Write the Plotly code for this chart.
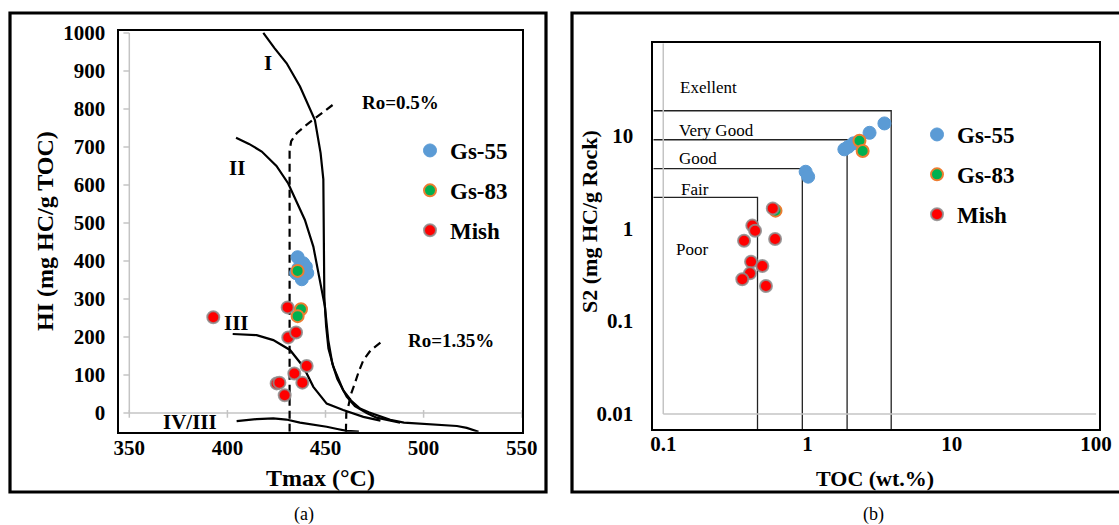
import plotly.graph_objects as go

# ---------------- data: panel (a) HI vs Tmax ----------------
gs55_tmax = [435.8, 440.0, 440.7, 437.9, 435.0, 438.7, 436.2]
gs55_hi = [410, 385, 368, 352, 368, 394, 381]
gs83_tmax = [435.8, 437.5, 435.8]
gs83_hi = [374, 273, 255]
mish_tmax = [392.8, 430.7, 431.0, 435.0, 440.4, 434.1, 438.2, 425.1, 426.5, 429.2]
mish_hi = [252, 278, 199, 212, 124, 104, 80, 78, 80, 47]

# kerogen type boundary curves
type1_t = [418.3, 424, 430.2, 437, 444.6, 447.5, 448.9, 449.1, 449.4, 450.3, 451.5, 454, 459,
           463, 467.6, 472, 477.8, 483, 490, 500, 510, 517, 522, 528]
type1_hi = [1000, 960, 920, 859, 771, 684, 615, 450, 306, 230, 170, 122, 60,
            33, 12, 2, -8, -18, -25, -28, -31, -34, -39, -49]
type2_t = [404.4, 411, 417.5, 425, 431, 435, 439.5, 443.8, 447.2, 449.7, 451.4, 453.5, 456,
           460.8, 465, 471, 476, 483, 488]
type2_hi = [724, 708, 688, 650, 604, 560, 508, 438, 350, 280, 192, 130, 90,
            43, 18, 0, -12, -20, -25]
type3_t = [402.7, 414.9, 423.4, 431.9, 438.7, 443.8, 450.6, 459, 469.3, 478]
type3_hi = [208, 205, 192, 166, 122, 69, 25, 8, -10, -20]
type4_t = [404.7, 415, 423.4, 430, 437, 445, 450.6, 456, 460.8, 467]
type4_hi = [-21, -16, -14, -17, -25, -31, -36, -42, -47, -49]

# vitrinite reflectance iso-lines
ro05_t = [431.7, 431.7, 432.5, 435.3, 440, 444.6, 450, 454.8]
ro05_hi = [-49, 690, 715, 736, 757, 775, 795, 815]
ro135_t = [460.4, 460.6, 461.6, 463, 465, 467, 469.3, 473, 478.6]
ro135_hi = [-49, 0, 17, 50, 79, 110, 139, 165, 188]

tmax_ticks = [350, 400, 450, 500, 550]
hi_ticks = [0, 100, 200, 300, 400, 500, 600, 700, 800, 900, 1000]

# ---------------- data: panel (b) S2 vs TOC ----------------
gs55_toc = [3.41, 2.69, 2.08, 1.92, 1.80, 0.97, 1.01]
gs55_s2 = [13.5, 10.7, 8.24, 7.57, 7.1, 4.07, 3.6]
gs83_toc = [2.29, 2.41, 0.60]
gs83_s2 = [8.79, 6.81, 1.55]
mish_toc = [0.574, 0.414, 0.433, 0.363, 0.596, 0.406, 0.486, 0.399, 0.353, 0.515]
mish_s2 = [1.64, 1.07, 0.94, 0.735, 0.767, 0.436, 0.392, 0.327, 0.282, 0.239]

# source-rock potential class limits
toc_limits = [0.45, 0.92, 1.88, 3.8]
s2_limits = [2.15, 4.4, 9.0, 18.5]

toc_ticks = [0.1, 1, 10, 100]
toc_ticktext = ["0.1", "1", "10", "100"]
s2_ticks = [0.01, 0.1, 1, 10]
s2_ticktext = ["0.01", "0.1", "1", "10"]

# ---------------- styling ----------------
W, H = 1119, 525
SERIF = "Liberation Serif, Times New Roman, serif"
BLUE = "#5B9BD5"
GREEN = "#00B050"
ORANGE = "#ED7D31"
RED = "#FF0000"
HALO = "rgba(140,140,140,0.85)"
GREY = "#C4C4C4"

XA_RANGE = [344.9, 550]
YA_RANGE = [-49, 1005]
XB_RANGE = [-1.069, 2.02]
YB_RANGE = [-2.163, 1.994]


def px(x):
    return x / W


def py(y):
    return 1 - y / H


fig = go.Figure()

# ---- panel (a): curves ----
for tx, hy in [(type1_t, type1_hi), (type2_t, type2_hi), (type3_t, type3_hi), (type4_t, type4_hi)]:
    fig.add_trace(go.Scatter(x=tx, y=hy, mode="lines", line=dict(color="black", width=2.2),
                             showlegend=False, hoverinfo="skip", xaxis="x", yaxis="y"))
for tx, hy in [(ro05_t, ro05_hi), (ro135_t, ro135_hi)]:
    fig.add_trace(go.Scatter(x=tx, y=hy, mode="lines",
                             line=dict(color="black", width=2.2, dash="8px,5px"),
                             showlegend=False, hoverinfo="skip", xaxis="x", yaxis="y"))

# ---- panel (b): class boundaries and axis lines ----
toc_min = 10 ** XB_RANGE[0]
s2_min = 10 ** YB_RANGE[0]
for tl, sl in zip(toc_limits, s2_limits):
    fig.add_trace(go.Scatter(x=[toc_min, tl, tl], y=[sl, sl, s2_min], mode="lines",
                             line=dict(color="#222222", width=1.3),
                             showlegend=False, hoverinfo="skip", xaxis="x2", yaxis="y2"))
fig.add_trace(go.Scatter(x=[toc_ticks[0], toc_ticks[0]], y=[s2_ticks[0], 10 ** YB_RANGE[1]],
                         mode="lines", line=dict(color=GREY, width=1.5),
                         showlegend=False, hoverinfo="skip", xaxis="x2", yaxis="y2"))
fig.add_trace(go.Scatter(x=[toc_ticks[0], toc_ticks[-1]], y=[s2_ticks[0], s2_ticks[0]],
                         mode="lines", line=dict(color=GREY, width=1.5),
                         showlegend=False, hoverinfo="skip", xaxis="x2", yaxis="y2"))

# ---- sample points ----
series = [
    ("Gs-55", gs55_tmax, gs55_hi, gs55_toc, gs55_s2, dict(color=BLUE, size=13, line=dict(color=BLUE, width=1))),
    ("Gs-83", gs83_tmax, gs83_hi, gs83_toc, gs83_s2, dict(color=GREEN, size=12, line=dict(color=ORANGE, width=2))),
    ("Mish", mish_tmax, mish_hi, mish_toc, mish_s2, dict(color=RED, size=12, line=dict(color=HALO, width=2))),
]
for name, tx, hy, toc, s2, mk in series:
    fig.add_trace(go.Scatter(x=tx, y=hy, mode="markers", name=name, marker=mk,
                             legend="legend", legendgroup=name + "a", xaxis="x", yaxis="y"))
    fig.add_trace(go.Scatter(x=toc, y=s2, mode="markers", name=name, marker=mk,
                             legend="legend2", legendgroup=name + "b", xaxis="x2", yaxis="y2"))

tick_font = dict(family=SERIF, size=21, color="black", weight="bold")
axis_common = dict(showline=True, mirror=True, linecolor="black", linewidth=1.6,
                   showgrid=False, zeroline=False, ticks="", tickfont=tick_font,
                   automargin=False)

legend_font = dict(family=SERIF, size=23, color="black", weight="bold")
fig.update_layout(
    width=W, height=H, autosize=False,
    margin=dict(l=0, r=0, t=0, b=0, pad=0),
    paper_bgcolor="white", plot_bgcolor="white",
    font=dict(family=SERIF, color="black"),
    xaxis=dict(domain=[px(119.3), px(521.7)], range=XA_RANGE, tickvals=tmax_ticks,
               anchor="y", ticklabelstandoff=-4, **axis_common),
    yaxis=dict(domain=[py(431.7), py(31)], range=YA_RANGE, tickvals=hi_ticks,
               anchor="x", ticklabelstandoff=8, **axis_common),
    xaxis2=dict(domain=[px(653.3), px(1099)], range=XB_RANGE, type="log", tickvals=toc_ticks,
                ticktext=toc_ticktext, anchor="y2", ticklabelstandoff=-5, **axis_common),
    yaxis2=dict(domain=[py(429), py(43.3)], range=YB_RANGE, type="log", tickvals=s2_ticks,
                ticktext=s2_ticktext, anchor="x2", ticklabelstandoff=14, **axis_common),
    legend=dict(x=px(410), y=py(129), xanchor="left", yanchor="top",
                bgcolor="rgba(0,0,0,0)", borderwidth=0, tracegroupgap=7, font=legend_font),
    legend2=dict(x=px(917), y=py(113), xanchor="left", yanchor="top",
                 bgcolor="rgba(0,0,0,0)", borderwidth=0, tracegroupgap=7, font=legend_font),
)

shapes = []
# grey axis lines of panel (a) crossing at Tmax=350, HI=0
shapes.append(dict(type="line", xref="x", yref="y", x0=tmax_ticks[0], x1=tmax_ticks[-1],
                   y0=0, y1=0, line=dict(color=GREY, width=1.5), layer="below"))
shapes.append(dict(type="line", xref="x", yref="y", x0=tmax_ticks[0], x1=tmax_ticks[0],
                   y0=0, y1=hi_ticks[-1], line=dict(color=GREY, width=1.5), layer="below"))
for hv in hi_ticks:
    shapes.append(dict(type="line", xref="x", yref="y", x0=tmax_ticks[0] - 3, x1=tmax_ticks[0],
                       y0=hv, y1=hv, line=dict(color=GREY, width=1.5), layer="below"))
for tv in tmax_ticks:
    shapes.append(dict(type="line", xref="x", yref="y", x0=tv, x1=tv,
                       y0=-12, y1=8, line=dict(color=GREY, width=1.5), layer="below"))
# panel borders
shapes.append(dict(type="rect", xref="paper", yref="paper", x0=px(10), x1=px(546),
                   y0=py(492), y1=py(13), line=dict(color="black", width=3.2)))
shapes.append(dict(type="rect", xref="paper", yref="paper", x0=px(572), x1=px(1130),
                   y0=py(492), y1=py(13), line=dict(color="black", width=3.2)))
fig.update_layout(shapes=shapes)

bold = dict(family=SERIF, color="black", weight="bold")
centered = dict(xanchor="center", yanchor="middle", showarrow=False)
ann = []
# curve labels
for txt, x, y in [("I", 420.8, 922), ("II", 404.7, 644), ("III", 404.7, 236), ("IV/III", 381, -23)]:
    ann.append(dict(text=txt, x=x, y=y, xref="x", yref="y", font=dict(size=21, **bold), **centered))
for txt, x, y in [("Ro=0.5%", 488, 816), ("Ro=1.35%", 513.8, 190)]:
    ann.append(dict(text=txt, x=x, y=y, xref="x", yref="y", font=dict(size=19, **bold), **centered))
# class labels (log axis positions)
for txt, lx, ly in [("Exellent", -0.896, 1.519), ("Very Good", -0.903, 1.059),
                    ("Good", -0.905, 0.754), ("Fair", -0.889, 0.413), ("Poor", -0.924, -0.226)]:
    ann.append(dict(text=txt, x=lx, y=ly, xref="x2", yref="y2", xanchor="left", yanchor="middle",
                    showarrow=False, font=dict(family=SERIF, size=17, color="black")))
# axis titles
ann.append(dict(text="Tmax (°C)", x=px(320), y=py(478), xref="paper", yref="paper",
                font=dict(size=24, **bold), **centered))
ann.append(dict(text="HI (mg HC/g TOC)", x=px(45), y=py(231), xref="paper", yref="paper",
                textangle=-90, font=dict(size=24, **bold), **centered))
ann.append(dict(text="TOC (wt.%)", x=px(875), y=py(478), xref="paper", yref="paper",
                font=dict(size=22, **bold), **centered))
ann.append(dict(text="S2 (mg HC/g Rock)", x=px(590), y=py(222), xref="paper", yref="paper",
                textangle=-90, font=dict(size=22, **bold), **centered))
# panel captions
ann.append(dict(text="(a)", x=px(304), y=py(514), xref="paper", yref="paper",
                font=dict(family=SERIF, size=18, color="black"), **centered))
ann.append(dict(text="(b)", x=px(873), y=py(514), xref="paper", yref="paper",
                font=dict(family=SERIF, size=18, color="black"), **centered))
fig.update_layout(annotations=ann)

# page without default body margins so the figure fills the window exactly
page_reset = ("var s=document.createElement('style');"
              "s.innerHTML='html,body{margin:0;padding:0;overflow:hidden;}';"
              "document.head.appendChild(s);")
fig.write_html("out.html", post_script=page_reset)
